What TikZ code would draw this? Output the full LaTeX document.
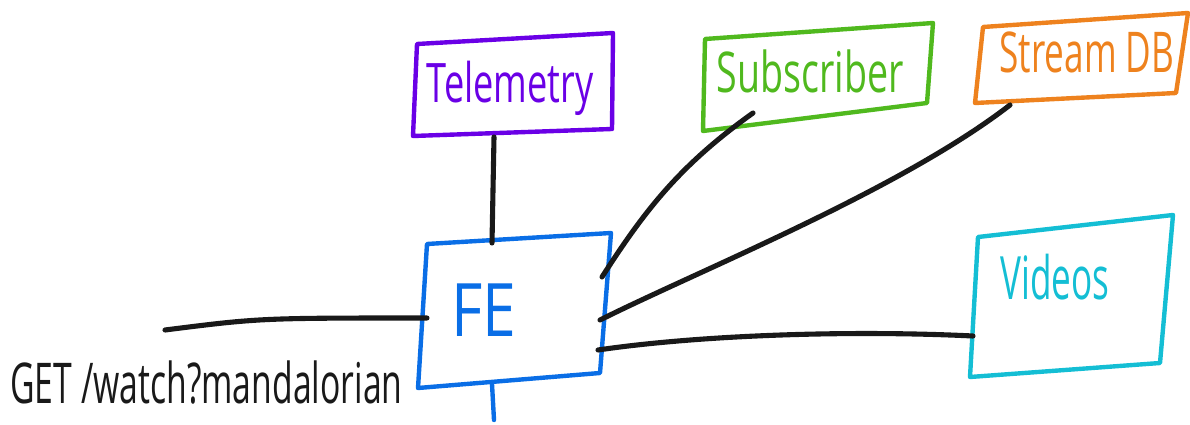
\documentclass[tikz,border=0pt]{standalone}
\usepackage{fontspec}
\setmainfont{Open Sans}
\usepackage{graphicx}
\definecolor{tpurple}{RGB}{106,0,230}
\definecolor{sgreen}{RGB}{80,185,30}
\definecolor{dorange}{RGB}{238,130,30}
\definecolor{feblue}{RGB}{10,110,230}
\definecolor{vcyan}{RGB}{20,190,212}
\definecolor{ink}{RGB}{25,25,25}
\begin{document}
\begin{tikzpicture}[x=0.02cm,y=-0.02cm,
  box/.style={line width=2.5pt, line cap=round, line join=round},
  wire/.style={line width=2.9pt, draw=ink, line cap=round, line join=round},
  lbl/.style={font=\fontsize{20}{20}\selectfont, inner sep=0pt, anchor=base}]
\useasboundingbox (0,0) rectangle (1190,425);

% Telemetry
\coordinate (t1) at (417,44); \coordinate (t2) at (613,33);
\coordinate (t3) at (612,129); \coordinate (t4) at (413,136);
\draw[box, tpurple] (t1) -- (t2) -- (t3) -- (t4) -- cycle;
\node[lbl, text=tpurple] (tel) at (510,103) {\scalebox{1.03}[1.55]{Telemetry}};

% Subscriber
\coordinate (s1) at (705,39); \coordinate (s2) at (933,23);
\coordinate (s3) at (927,103); \coordinate (s4) at (703,131);
\draw[box, sgreen] (s1) -- (s2) -- (s3) -- (s4) -- cycle;
\node[lbl, text=sgreen] (sub) at (810,93) {\scalebox{1.07}[1.6]{Subscriber}};

% Stream DB
\coordinate (d1) at (983,27); \coordinate (d2) at (1188,13);
\coordinate (d3) at (1176,93); \coordinate (d4) at (975,103);
\draw[box, dorange] (d1) -- (d2) -- (d3) -- (d4) -- cycle;
\node[lbl, text=dorange] (sdb) at (1087,73) {\scalebox{1.0}[1.6]{Stream DB}};

% FE
\coordinate (f1) at (427,244); \coordinate (f2) at (611,233);
\coordinate (f3) at (600,373); \coordinate (f4) at (418,388);
\draw[box, feblue] (f1) -- (f2) -- (f3) -- (f4) -- cycle;
\node[lbl, text=feblue, font=\fontsize{30}{30}\selectfont] (fe) at (484,337) {\scalebox{1.15}[1.4]{FE}};
\coordinate (febot) at (492,384); \coordinate (festub) at (494,420);
\draw[box, feblue] (febot) -- (festub);

% Videos
\coordinate (v1) at (978,237); \coordinate (v2) at (1173,215);
\coordinate (v3) at (1160,363); \coordinate (v4) at (970,377);
\draw[box, vcyan] (v1) -- (v2) -- (v3) -- (v4) -- cycle;
\node[lbl, text=vcyan] (vid) at (1055,300) {\scalebox{1}[1.7]{Videos}};

% request label
\node[lbl, anchor=base west, text=ink] (req) at (10,403) {\scalebox{0.96}[1.6]{GET /watch?mandalorian}};

% connector anchors
\coordinate (telb) at (494,137); \coordinate (fetop) at (492,243);
\coordinate (lin) at (165,330); \coordinate (fel) at (427,318);
\coordinate (fes) at (602,277); \coordinate (subb) at (753,113);
\coordinate (fed) at (600,320); \coordinate (dbb) at (1010,105);
\coordinate (fev) at (598,350); \coordinate (vidl) at (973,336);

\draw[wire] (telb) -- (fetop);
\draw[wire] (lin) .. controls (260,318) .. (fel);
\draw[wire] (fes) .. controls (645,210) and (680,165) .. (subb);
\draw[wire] (fed) .. controls (700,270) and (900,190) .. (dbb);
\draw[wire] (fev) .. controls (700,335) and (850,330) .. (vidl);
\end{tikzpicture}
\end{document}
